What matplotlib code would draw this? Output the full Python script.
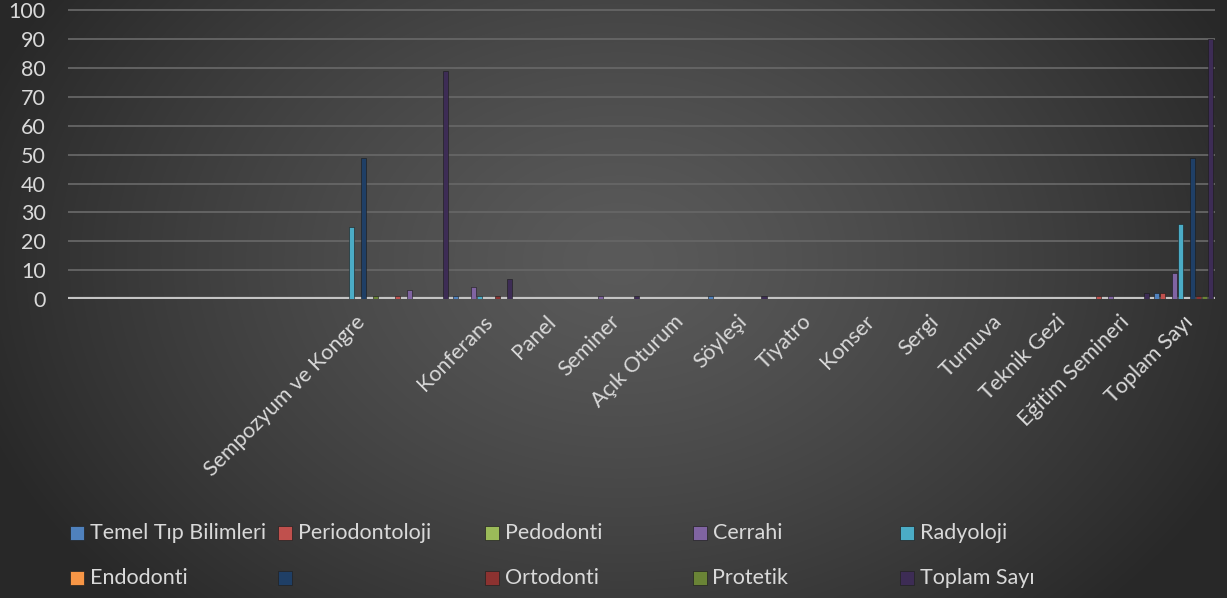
import matplotlib.pyplot as plt
import numpy as np
from matplotlib.patches import Rectangle

plt.rcParams['font.family'] = ['Lato', 'DejaVu Sans']

# categories (several have no name in the source sheet)
categories = ['', '', '', '', 'Sempozyum ve Kongre', '', 'Konferans', 'Panel', 'Seminer',
              'Açık Oturum', 'Söyleşi', 'Tiyatro', 'Konser', 'Sergi', 'Turnuva',
              'Teknik Gezi', 'Eğitim Semineri', 'Toplam Sayı']

series_names = ['Temel Tıp Bilimleri', 'Periodontoloji', 'Pedodonti', 'Cerrahi', 'Radyoloji',
                'Endodonti', '', 'Ortodonti', 'Protetik', 'Toplam Sayı']

N = None
temel          = [N, N, N, N, N,  N, 1, N, N, N, 1, N, N, N, N, N, N,  2]
periodontoloji = [N, N, N, N, N,  1, N, N, N, N, N, N, N, N, N, N, 1,  2]
pedodonti      = [N, N, N, N, N,  N, N, N, N, N, N, N, N, N, N, N, N,  N]
cerrahi        = [N, N, N, N, N,  3, 4, N, 1, N, N, N, N, N, N, N, 1,  9]
radyoloji      = [N, N, N, N, 25, N, 1, N, N, N, N, N, N, N, N, N, N, 26]
endodonti      = [N, N, N, N, N,  N, N, N, N, N, N, N, N, N, N, N, N,  N]
adsiz          = [N, N, N, N, 49, N, N, N, N, N, N, N, N, N, N, N, N, 49]
ortodonti      = [N, N, N, N, N,  N, 1, N, N, N, N, N, N, N, N, N, N,  1]
protetik       = [N, N, N, N, 1,  N, N, N, N, N, N, N, N, N, N, N, N,  1]
toplam         = [N, N, N, N, N, 79, 7, N, 1, N, 1, N, N, N, N, N, 2, 90]

all_series = [temel, periodontoloji, pedodonti, cerrahi, radyoloji,
              endodonti, adsiz, ortodonti, protetik, toplam]
colors = ['#4f81bd', '#c0504d', '#9bbb59', '#8064a2', '#4bacc6',
          '#f79646', '#1f3f66', '#8c3230', '#6a8436', '#3d2c55']

W, H = 1227, 598
fig = plt.figure(figsize=(W / 100, H / 100), dpi=100)

# radial grey background like the Excel chart style
bg = fig.add_axes([0, 0, 1, 1], zorder=-5)
yy, xx = np.mgrid[0:H, 0:W]
r = np.sqrt(((xx - 620) / 680.0) ** 2 + ((yy - 260) / 500.0) ** 2)
shade = 0x5a - (0x5a - 0x28) * np.clip(r, 0, 1) ** 1.3
img = np.dstack([shade, shade, shade]) / 255.0
bg.imshow(img, aspect='auto', extent=[0, 1, 0, 1], origin='upper')
bg.axis('off')

ax = fig.add_axes([68 / W, 299 / H, (1215 - 68) / W, 290 / H])
ax.set_facecolor('none')

x = np.arange(len(categories))
step = 0.094
for j, vals in enumerate(all_series):
    v = np.array([np.nan if a is None else a for a in vals], dtype=float)
    ax.bar(x + (j - 4.5) * step, v, width=0.08, color=colors[j],
           edgecolor='#1a1a1a', linewidth=0.4, zorder=3)

ax.set_xlim(-0.5, len(categories) - 0.5)
ax.set_ylim(0, 100.5)
ax.set_yticks(range(0, 101, 10))
ax.yaxis.grid(True, color='#666666', linewidth=1.3, zorder=0)
ax.set_axisbelow(True)
ax.axhline(0, color='#c4c4c4', linewidth=3, zorder=2)
for s in ax.spines.values():
    s.set_visible(False)

ax.tick_params(axis='both', length=0, colors='#d9d9d9', labelsize=15.5)
ax.tick_params(axis='y', pad=16)
ax.set_xticks(x)
ax.set_xticklabels(categories, rotation=45, ha='right', va='top',
                   rotation_mode='anchor')
ax.tick_params(axis='x', pad=9)

# legend, two rows of five, drawn by hand
for k, name in enumerate(series_names):
    col, row = k % 5, k // 5
    px = 70 + col * 207.5
    py = H - (533 + row * 45)
    fig.patches.append(Rectangle((px / W, (py - 7) / H), 14 / W, 14 / H,
                                 transform=fig.transFigure, facecolor=colors[k],
                                 edgecolor='#222222', linewidth=0.5))
    fig.text((px + 20) / W, py / H, name, color='#d9d9d9', fontsize=15.5,
             ha='left', va='center')

fig.savefig('out.png', dpi=100)
